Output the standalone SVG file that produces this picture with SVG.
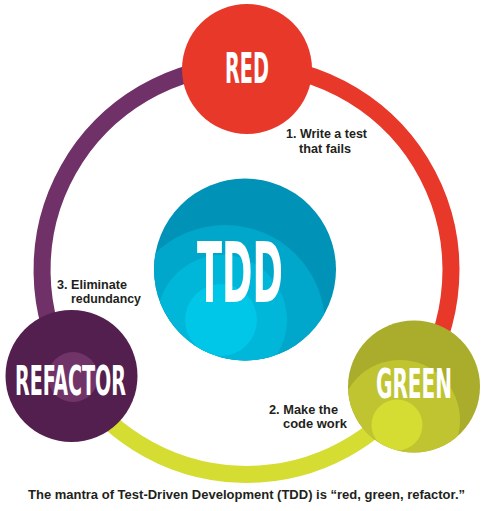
<svg xmlns="http://www.w3.org/2000/svg" width="489" height="511" viewBox="0 0 489 511">
<style>
.ring{fill:none;stroke-width:17}
.big{font-family:"Liberation Sans Narrow","DejaVu Sans Condensed","Liberation Sans",sans-serif;font-weight:bold;fill:#fff}
.lbl{font-family:"Liberation Sans","Arial",sans-serif;font-weight:bold;font-size:12.5px;fill:#231F20}
</style>
<defs>
<clipPath id="cTDD"><circle cx="245" cy="269.5" r="91"/></clipPath>
<clipPath id="cGreen"><circle cx="414" cy="386.5" r="66"/></clipPath>
<clipPath id="cRef"><circle cx="71.5" cy="376" r="66"/></clipPath>
</defs>
<rect width="489" height="511" fill="#fff"/>
<g id="connectors">
<path class="ring" stroke="#E8382A" d="M246.5,65.5 A204.5,204.5 0 0 1 414.4,386.7"/>
<path class="ring" stroke="#D5DD33" d="M414.4,386.7 A204.5,204.5 0 0 1 71.6,375.9"/>
<path class="ring" stroke="#703068" d="M71.6,375.9 A204.5,204.5 0 0 1 246.5,65.5"/>
</g>
<g id="node-tdd">
<circle cx="245" cy="269.5" r="91" fill="#0193B7"/>
<g clip-path="url(#cTDD)">
<circle cx="225" cy="325" r="100" fill="#01A7CA"/>
<circle cx="222" cy="320" r="65" fill="#00B6D9"/>
<circle cx="221" cy="320" r="36" fill="#00C6E8"/>
</g>
<text class="big" x="197" y="302" font-size="83" textLength="86" lengthAdjust="spacingAndGlyphs">TDD</text>
</g>
<g id="node-red">
<circle cx="247" cy="69" r="65" fill="#E8382A"/>
<text class="big" x="225" y="83" font-size="43" textLength="44" lengthAdjust="spacingAndGlyphs">RED</text>
</g>
<g id="node-green">
<circle cx="414" cy="386.5" r="66" fill="#A9AD2B"/>
<g clip-path="url(#cGreen)">
<circle cx="400" cy="420" r="60" fill="#C0C430"/>
<circle cx="397" cy="425" r="25.5" fill="#D5DD33"/>
</g>
<text class="big" x="376" y="398" font-size="41" textLength="76" lengthAdjust="spacingAndGlyphs">GREEN</text>
</g>
<g id="node-refactor">
<circle cx="71.5" cy="376" r="66" fill="#531F4F"/>
<circle cx="73" cy="377" r="25" fill="#713469"/>
<text class="big" x="15" y="395" font-size="41" textLength="111" lengthAdjust="spacingAndGlyphs">REFACTOR</text>
</g>
<g id="labels">
<text class="lbl" x="286" y="138" textLength="81" lengthAdjust="spacingAndGlyphs">1. Write a test</text>
<text class="lbl" x="299" y="153" textLength="52" lengthAdjust="spacingAndGlyphs">that fails</text>
<text class="lbl" x="269" y="414" textLength="69" lengthAdjust="spacingAndGlyphs">2. Make the</text>
<text class="lbl" x="283" y="428" textLength="64" lengthAdjust="spacingAndGlyphs">code work</text>
<text class="lbl" x="57" y="289" textLength="70" lengthAdjust="spacingAndGlyphs">3. Eliminate</text>
<text class="lbl" x="71" y="303" textLength="70" lengthAdjust="spacingAndGlyphs">redundancy</text>
<text class="lbl" x="28" y="499" textLength="437" lengthAdjust="spacingAndGlyphs">The mantra of Test-Driven Development (TDD) is “red, green, refactor.”</text>
</g>
</svg>
